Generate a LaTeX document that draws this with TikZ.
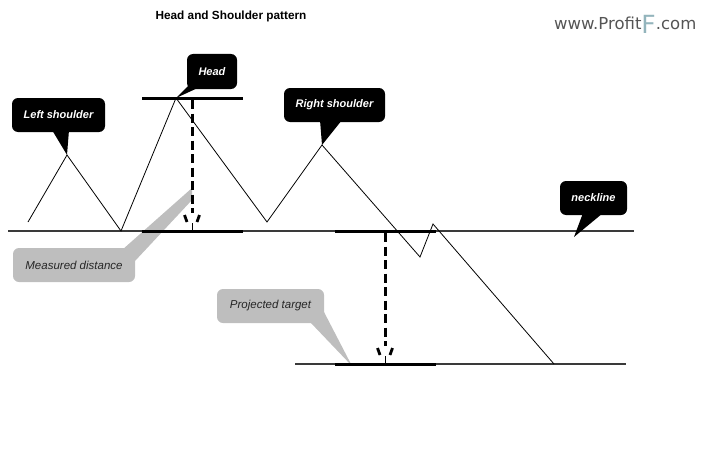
\documentclass[tikz,border=0pt]{standalone}
\usepackage{fontspec}
\setmainfont{Liberation Sans}
\newfontfamily\logofont{DejaVu Sans}
\usepackage{tikz}
\definecolor{calloutgrey}{HTML}{BEBEBE}
\definecolor{linegrey}{HTML}{3A3A3A}
\definecolor{logogrey}{HTML}{555555}
\definecolor{logoteal}{HTML}{93B4BC}

\begin{document}
\begin{tikzpicture}[x=1pt, y=-1pt,
  blackcall/.style={fill=black, rounded corners=6pt, text=white, font=\fontsize{11}{13}\selectfont\bfseries\itshape, minimum height=34pt, inner sep=0pt},
  greycall/.style={fill=calloutgrey, rounded corners=6pt, text=black!85, font=\fontsize{11.5}{13}\selectfont\itshape, minimum height=34pt, inner sep=0pt},
  level/.style={linegrey, line width=1.6pt},
  thickseg/.style={black, line width=3pt},
  measure/.style={black, line width=3pt, dash pattern=on 9pt off 4.5pt}]
  \useasboundingbox (0,0) rectangle (717,460);

  % title and logo
  \node (title) at (231,16) {\fontsize{11.8}{13}\selectfont\bfseries Head and Shoulder pattern};
  \node (logo) [anchor=west, inner sep=0pt] at (554,24) {\logofont\fontsize{16.5}{18}\selectfont\color{logogrey}www.Profit\raisebox{-4pt}{\color{logoteal}\fontsize{25}{26}\selectfont F}.com};

  % key points
  \coordinate (nlL) at (8,231);   \coordinate (nlR) at (634,231);
  \coordinate (tgL) at (295,364); \coordinate (tgR) at (626,364);
  \coordinate (p0) at (28,222);   \coordinate (lsTop) at (67,155);
  \coordinate (p2) at (121,231);  \coordinate (hdTop) at (176,98);
  \coordinate (p4) at (267,222);  \coordinate (rsTop) at (322,145);
  \coordinate (p6) at (420,257);  \coordinate (p7) at (433,224);
  \coordinate (p8) at (554,364);
  \coordinate (mTop) at (192,100);  \coordinate (mBot) at (192,231);
  \coordinate (pTop) at (385,233); \coordinate (pBot) at (385,364);

  % grey callouts
  \node (measured) [greycall, minimum width=122pt] at (74,265) {Measured distance};
  \fill[calloutgrey] (122,250) -- (135,261) -- (192,200) -- (192,188) -- cycle;
  \node (projected) [greycall, minimum width=107pt] at (270.5,306) {Projected target};
  \fill[calloutgrey] (310,322) -- (324,312) -- (352,366) -- cycle;

  % levels
  \draw[level] (nlL) -- (nlR);
  \draw[level] (tgL) -- (tgR);
  \draw[thickseg] (142,98) -- (243,98);
  \draw[thickseg] (142,231) -- (243,231);
  \draw[thickseg] (335,231) -- (436,231);
  \draw[thickseg] (335,364) -- (436,364);

  % measured and projected distance
  \draw[measure] (mTop) -- ([yshift=18pt]mBot);
  \draw[measure] (pTop) -- ([yshift=18pt]pBot);
  \foreach \m in {mBot, pBot} {
    \draw[black, line width=2.8pt] ([xshift=-7.5pt, yshift=16pt]\m) -- ([xshift=-5pt, yshift=9pt]\m);
    \draw[black, line width=2.8pt] ([xshift=7.5pt, yshift=16pt]\m) -- ([xshift=5pt, yshift=9pt]\m);
    \draw[black, line width=0.6pt] ([yshift=8pt]\m) -- (\m);
  }

  % price
  \draw[black, line width=0.8pt] (p0) -- (lsTop) -- (p2) -- (hdTop) -- (p4) -- (rsTop) -- (p6) -- (p7) -- (p8);

  % black callouts
  \node (leftsh) [blackcall, minimum width=93pt] at (58.5,115) {Left shoulder};
  \fill (52,130) -- (69,130) -- (lsTop) -- cycle;
  \node (head) [blackcall, minimum width=50pt, minimum height=35pt] at (212,71.5) {Head};
  \fill (188,86) -- (202,86) -- (hdTop) -- cycle;
  \node (rightsh) [blackcall, minimum width=101pt] at (334.5,105) {Right shoulder};
  \fill (320,120) -- (342,120) -- (rsTop) -- cycle;
  \node (neck) [blackcall, minimum width=67pt] at (593.5,198) {neckline};
  \fill (583,213) -- (603,213) -- (574,237) -- cycle;
\end{tikzpicture}
\end{document}
